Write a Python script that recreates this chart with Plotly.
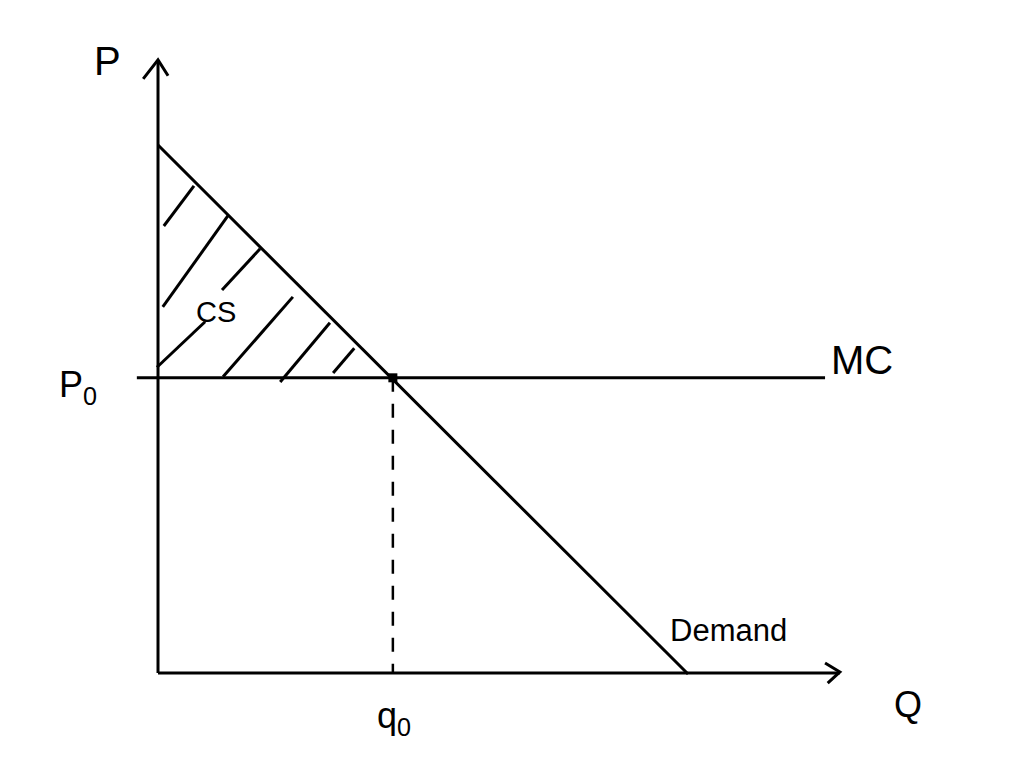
import plotly.graph_objects as go

# ---- data (economic units: quantity Q, price P) ----
demand_q = [0.0, 10.02]
demand_p = [9.98, -0.02]

mc_q = [-0.40, 12.61]
mc_p = [5.58, 5.58]

q0 = 4.44
p0 = 5.58

yaxis_q = [0.0, 0.0]
yaxis_p = [0.0, 11.59]
yarrow_q = [-0.28, 0.0, 0.19]
yarrow_p = [11.23, 11.59, 11.29]

xaxis_q = [0.0, 12.89]
xaxis_p = [0.0, 0.0]
xarrow_q = [12.61, 12.89, 12.66]
xarrow_p = [0.19, 0.02, -0.19]

# hatch strokes of consumer surplus (start/end pairs)
hatch_q = [0.11, 0.68, None, 0.09, 1.32, None, 1.21, 1.93, None,
           -0.02, 0.89, None, 1.23, 2.55, None, 2.31, 3.25, None, 3.31, 3.71]
hatch_p = [8.45, 9.21, None, 6.92, 8.64, None, 7.24, 8.02, None,
           5.78, 6.64, None, 5.60, 7.11, None, 5.50, 6.62, None, 5.67, 6.14]

labels = ["P", "Q", "P<sub>0</sub>", "q<sub>0</sub>", "MC", "Demand", "CS"]
label_q = [-0.96, 14.17, -1.52, 4.47, 13.30, 10.78, 1.10]
label_p = [11.57, -0.60, 5.40, -0.85, 5.92, 0.80, 6.82]
label_size = [40, 36, 36, 36, 40, 31, 29]

INK = "black"
fig = go.Figure()

def seg(x, y, w=3, dash="solid"):
    fig.add_trace(go.Scatter(x=x, y=y, mode="lines",
                             line=dict(color=INK, width=w, dash=dash),
                             hoverinfo="skip", showlegend=False))

seg(yaxis_q, yaxis_p)
seg(yarrow_q, yarrow_p)
seg(xaxis_q, xaxis_p)
seg(xarrow_q, xarrow_p)
seg(mc_q, mc_p)
seg(demand_q, demand_p)
seg(hatch_q, hatch_p)
seg([q0, q0], [p0, 0.0], w=2.5, dash="14px,12px")

fig.add_trace(go.Scatter(x=[q0], y=[p0], mode="markers",
                         marker=dict(symbol="square", size=9, color=INK),
                         hoverinfo="skip", showlegend=False))

for t, x, y, s in zip(labels, label_q, label_p, label_size):
    fig.add_annotation(x=x, y=y, text=t, showarrow=False,
                       font=dict(family="Liberation Sans", size=s, color=INK),
                       xanchor="center", yanchor="middle")

fig.update_layout(
    width=1024, height=768,
    margin=dict(l=0, r=0, t=0, b=0),
    paper_bgcolor="white", plot_bgcolor="white",
    xaxis=dict(range=[-2.987, 16.371], visible=False, fixedrange=True),
    yaxis=dict(range=[-1.796, 12.722], visible=False, fixedrange=True),
    showlegend=False,
)

fig.write_html("out.html", config={"displayModeBar": False},
               post_script="document.body.style.margin='0';document.body.style.overflow='hidden';")
